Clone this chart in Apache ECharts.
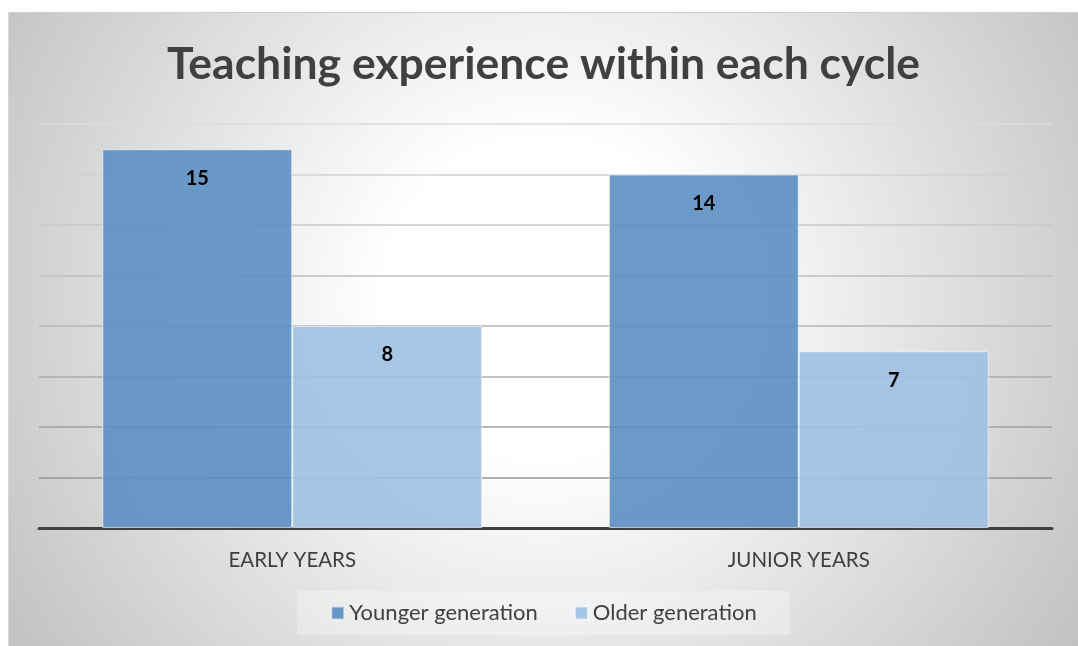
<!DOCTYPE html>
<html lang="en">
<head>
  <meta charset="UTF-8">
  <title>Teaching experience</title>
  <script src="https://cdn.jsdelivr.net/npm/echarts@6/dist/echarts.min.js"></script>
  <style>
    html, body { margin: 0; padding: 0; background: #fff; }
    #box {
      position: absolute; left: 8px; top: 12px;
      width: 1069px; height: 633px;
      border-top: 1px solid #cfcfcf; border-left: 1px solid #d8d8d8;
    }
  </style>
</head>
<body>
<div id="box"></div>
<script>
  // data
  var categories = ['EARLY YEARS', 'JUNIOR YEARS'];
  var younger = [15, 14];
  var older = [8, 7];
  var seriesNames = ['Younger generation', 'Older generation'];

  var myChart = echarts.init(document.getElementById('box'));

  var option = {
    backgroundColor: {
      type: 'radial', x: 0.5, y: 0.45, r: 1.0,
      colorStops: [
        {offset: 0, color: '#ffffff'},
        {offset: 0.25, color: '#ffffff'},
        {offset: 1, color: '#c2c2c2'}
      ]
    },
    title: {
      text: 'Teaching experience within each cycle',
      left: 'center',
      top: 24,
      textStyle: {
        fontFamily: 'Lato',
        fontWeight: 'bold',
        fontSize: 44.5,
        color: '#404040'
      }
    },
    legend: {
      data: seriesNames,
      top: 578,
      left: 'center',
      itemWidth: 13,
      itemHeight: 13,
      itemGap: 36,
      padding: [11, 33],
      backgroundColor: 'rgba(255,255,255,0.3)',
      icon: 'rect',
      textStyle: {fontFamily: 'Lato', fontSize: 22, color: '#404040'}
    },
    grid: {left: 30, right: 26, top: 111, bottom: 118},
    xAxis: {
      type: 'category',
      data: categories,
      axisTick: {show: false},
      axisLine: {lineStyle: {color: '#404040', width: 3}},
      axisLabel: {fontFamily: 'Lato', fontSize: 20.5, color: '#404040', margin: 22}
    },
    yAxis: {
      type: 'value',
      min: 0, max: 16, interval: 2,
      axisLabel: {show: false},
      axisLine: {show: false},
      axisTick: {show: false},
      splitLine: {
        lineStyle: {
          width: 1.5,
          color: {
            type: 'linear', x: 0, y: 100, x2: 0, y2: 520, global: true,
            colorStops: [
              {offset: 0, color: '#dedede'},
              {offset: 1, color: '#8c8c8c'}
            ]
          }
        }
      }
    },
    series: [
      {
        name: seriesNames[0],
        type: 'bar',
        data: younger,
        barGap: '0%',
        barCategoryGap: '25%',
        itemStyle: {color: 'rgba(91,143,194,0.9)', borderColor: 'rgba(255,255,255,0.6)', borderWidth: 1},
        label: {
          show: true, position: 'insideTop', distance: 19,
          fontFamily: 'Lato', fontWeight: 'bold', fontSize: 20, color: '#000'
        }
      },
      {
        name: seriesNames[1],
        type: 'bar',
        data: older,
        itemStyle: {color: 'rgba(160,192,226,0.92)', borderColor: 'rgba(255,255,255,0.6)', borderWidth: 1},
        label: {
          show: true, position: 'insideTop', distance: 19,
          fontFamily: 'Lato', fontWeight: 'bold', fontSize: 20, color: '#000'
        }
      }
    ]
  };

  myChart.setOption(option);
</script>
</body>
</html>
